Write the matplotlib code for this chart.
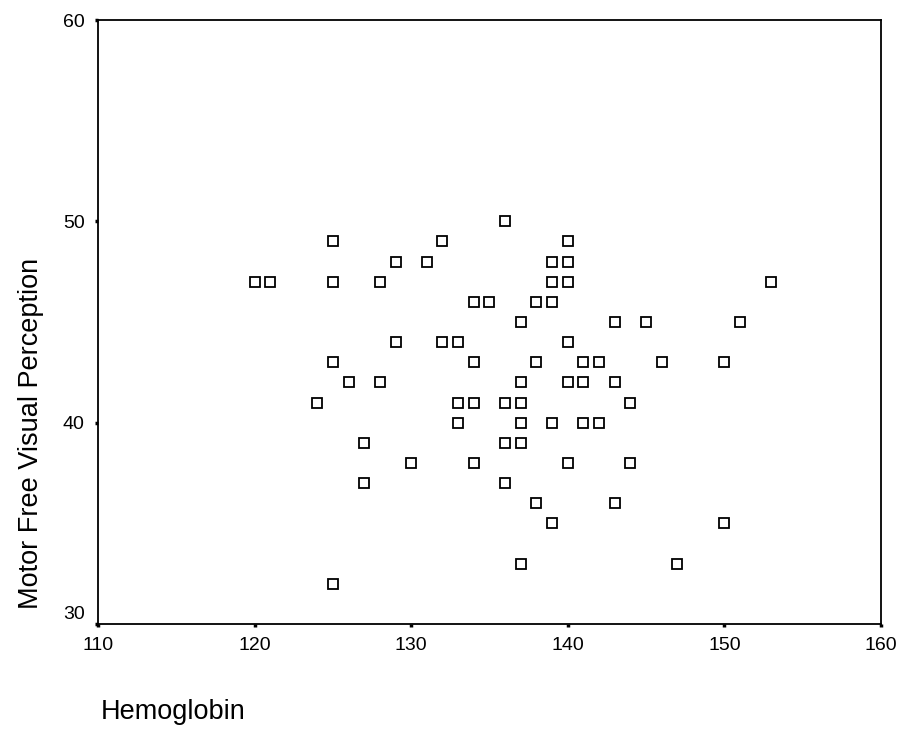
import matplotlib
matplotlib.use("Agg")
import matplotlib.pyplot as plt
from matplotlib.transforms import ScaledTranslation

plt.rcParams['font.family'] = ['Liberation Sans', 'DejaVu Sans']

# values
hemoglobin = [120, 121, 124, 125, 125, 125, 125, 126, 127, 127,
              128, 128, 129, 129, 130, 131, 132, 132, 133, 133,
              133, 134, 134, 134, 134, 135, 136, 136, 136, 136,
              137, 137, 137, 137, 137, 137, 138, 138, 138, 139,
              139, 139, 139, 139, 140, 140, 140, 140, 140, 140,
              141, 141, 141, 142, 142, 143, 143, 143, 144, 144,
              145, 146, 147, 150, 150, 151, 153]
mfvp = [47, 47, 41, 49, 47, 43, 32, 42, 39, 37,
        47, 42, 48, 44, 38, 48, 49, 44, 44, 41,
        40, 46, 43, 41, 38, 46, 50, 41, 39, 37,
        45, 42, 41, 40, 39, 33, 46, 43, 36, 48,
        47, 46, 40, 35, 49, 48, 47, 44, 42, 38,
        43, 42, 40, 43, 40, 45, 42, 36, 41, 38,
        45, 43, 33, 43, 35, 45, 47]

x_ticks = [110, 120, 130, 140, 150, 160]
y_ticks = [30, 40, 50, 60]

fig = plt.figure(figsize=(9.03, 7.31), dpi=100)
ax = fig.add_axes([0.1085, 0.1464, 0.8671, 0.8262])

ax.plot(hemoglobin, mfvp, linestyle='none', marker='s', markersize=6.5,
        markerfacecolor='white', markeredgecolor='black', markeredgewidth=1.3)

ax.set_xlim(110, 160)
ax.set_ylim(30, 60)
ax.set_xticks(x_ticks)
ax.set_yticks(y_ticks)
ax.tick_params(direction='out', length=2.5, width=2.5, labelsize=14)
ax.tick_params(axis='x', pad=7)
ax.tick_params(axis='y', pad=7)

# bottom y label sits a bit higher in the original
lbl = ax.get_yticklabels()[0]
lbl.set_transform(lbl.get_transform() + ScaledTranslation(0, 8 / 72, fig.dpi_scale_trans))

for s in ax.spines.values():
    s.set_linewidth(1.3)
    s.set_color('black')

fig.text(31 / 903, 1 - 433 / 731, 'Motor Free Visual Perception', fontsize=19.5,
         rotation=90, ha='center', va='center')
fig.text(101 / 903, 1 - 712 / 731, 'Hemoglobin', fontsize=19.5,
         ha='left', va='center')

fig.savefig('out.png', dpi=100)
